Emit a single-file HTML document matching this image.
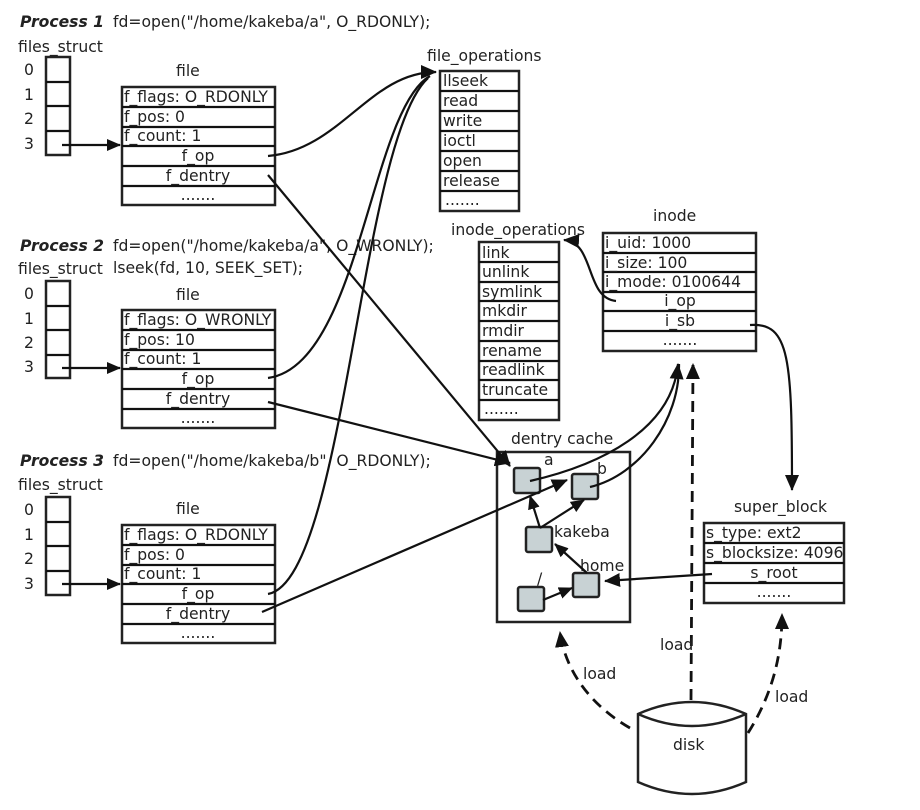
<!DOCTYPE html>
<html><head><meta charset="utf-8"><style>
html,body{margin:0;padding:0;background:#fff;}
svg{display:block;}
text{font-family:"DejaVu Sans","Liberation Sans",sans-serif;font-size:15.6px;fill:#222;}
.b{font-weight:bold;font-style:italic;}
.box{fill:#fff;stroke:#222;stroke-width:2.5;}
.ln{fill:none;stroke:#111;stroke-width:2.2;}
.ds{fill:none;stroke:#111;stroke-width:2.8;stroke-dasharray:11,7;}
.sq{fill:#c8d2d4;stroke:#222;stroke-width:2.5;}
</style></head><body>
<svg width="920" height="810" viewBox="0 0 920 810" xmlns="http://www.w3.org/2000/svg">
<defs>
<marker id="ar" markerWidth="14" markerHeight="12" refX="13" refY="6" orient="auto" markerUnits="userSpaceOnUse" viewBox="0 0 14 12"><path d="M0,0 L14,6 L0,12 z" fill="#111"/></marker>
<marker id="ar2" markerWidth="16" markerHeight="14" refX="15" refY="7" orient="auto" markerUnits="userSpaceOnUse" viewBox="0 0 16 14"><path d="M0,0 L16,7 L0,14 z" fill="#111"/></marker>
</defs>

<!-- Process 1 -->
<text x="20" y="27" class="b">Process 1</text>
<text x="113" y="27">fd=open("/home/kakeba/a", O_RDONLY);</text>
<text x="18" y="52">files_struct</text>
<g>
<rect class="box" x="46" y="57" width="24" height="98"/>
<line class="ln" x1="46" y1="82" x2="70" y2="82"/><line class="ln" x1="46" y1="106" x2="70" y2="106"/><line class="ln" x1="46" y1="131" x2="70" y2="131"/>
<text x="24" y="75">0</text><text x="24" y="100">1</text><text x="24" y="124">2</text><text x="24" y="149">3</text>
</g>
<text x="176" y="76">file</text>
<rect class="box" x="122" y="87" width="153" height="118"/>
<g class="ln"><line x1="122" y1="107" x2="275" y2="107"/><line x1="122" y1="127" x2="275" y2="127"/><line x1="122" y1="146" x2="275" y2="146"/><line x1="122" y1="166" x2="275" y2="166"/><line x1="122" y1="186" x2="275" y2="186"/></g>
<text x="124" y="102">f_flags: O_RDONLY</text><text x="124" y="122">f_pos: 0</text><text x="124" y="141">f_count: 1</text>
<text x="198" y="161" text-anchor="middle">f_op</text><text x="198" y="181" text-anchor="middle">f_dentry</text><text x="198" y="200" text-anchor="middle">.......</text>
<line class="ln" x1="62" y1="145" x2="120" y2="145" marker-end="url(#ar)"/>

<!-- Process 2 -->
<text x="20" y="251" class="b">Process 2</text>
<text x="113" y="251">fd=open("/home/kakeba/a", O_WRONLY);</text>
<text x="18" y="274">files_struct</text>
<text x="113" y="273">lseek(fd, 10, SEEK_SET);</text>
<rect class="box" x="46" y="281" width="24" height="97"/>
<line class="ln" x1="46" y1="306" x2="70" y2="306"/><line class="ln" x1="46" y1="330" x2="70" y2="330"/><line class="ln" x1="46" y1="355" x2="70" y2="355"/>
<text x="24" y="299">0</text><text x="24" y="324">1</text><text x="24" y="348">2</text><text x="24" y="372">3</text>
<text x="176" y="300">file</text>
<rect class="box" x="122" y="310" width="153" height="118"/>
<g class="ln"><line x1="122" y1="330" x2="275" y2="330"/><line x1="122" y1="350" x2="275" y2="350"/><line x1="122" y1="369" x2="275" y2="369"/><line x1="122" y1="389" x2="275" y2="389"/><line x1="122" y1="409" x2="275" y2="409"/></g>
<text x="124" y="325">f_flags: O_WRONLY</text><text x="124" y="345">f_pos: 10</text><text x="124" y="364">f_count: 1</text>
<text x="198" y="384" text-anchor="middle">f_op</text><text x="198" y="404" text-anchor="middle">f_dentry</text><text x="198" y="423" text-anchor="middle">.......</text>
<line class="ln" x1="62" y1="368" x2="120" y2="368" marker-end="url(#ar)"/>

<!-- Process 3 -->
<text x="20" y="466" class="b">Process 3</text>
<text x="113" y="466">fd=open("/home/kakeba/b", O_RDONLY);</text>
<text x="18" y="490">files_struct</text>
<rect class="box" x="46" y="497" width="24" height="98"/>
<line class="ln" x1="46" y1="522" x2="70" y2="522"/><line class="ln" x1="46" y1="546" x2="70" y2="546"/><line class="ln" x1="46" y1="571" x2="70" y2="571"/>
<text x="24" y="515">0</text><text x="24" y="540">1</text><text x="24" y="564">2</text><text x="24" y="589">3</text>
<text x="176" y="514">file</text>
<rect class="box" x="122" y="525" width="153" height="118"/>
<g class="ln"><line x1="122" y1="545" x2="275" y2="545"/><line x1="122" y1="565" x2="275" y2="565"/><line x1="122" y1="584" x2="275" y2="584"/><line x1="122" y1="604" x2="275" y2="604"/><line x1="122" y1="624" x2="275" y2="624"/></g>
<text x="124" y="540">f_flags: O_RDONLY</text><text x="124" y="560">f_pos: 0</text><text x="124" y="579">f_count: 1</text>
<text x="198" y="599" text-anchor="middle">f_op</text><text x="198" y="619" text-anchor="middle">f_dentry</text><text x="198" y="638" text-anchor="middle">.......</text>
<line class="ln" x1="62" y1="584" x2="120" y2="584" marker-end="url(#ar)"/>

<!-- file_operations -->
<text x="427" y="61">file_operations</text>
<rect class="box" x="440" y="71" width="79" height="140"/>
<g class="ln"><line x1="440" y1="91" x2="519" y2="91"/><line x1="440" y1="111" x2="519" y2="111"/><line x1="440" y1="131" x2="519" y2="131"/><line x1="440" y1="151" x2="519" y2="151"/><line x1="440" y1="171" x2="519" y2="171"/><line x1="440" y1="191" x2="519" y2="191"/></g>
<text x="443" y="86">llseek</text><text x="443" y="106">read</text><text x="443" y="126">write</text><text x="443" y="146">ioctl</text><text x="443" y="166">open</text><text x="443" y="186">release</text><text x="445" y="205">.......</text>

<!-- inode_operations -->
<text x="451" y="235">inode_operations</text>
<rect class="box" x="479" y="242" width="80" height="178"/>
<g class="ln"><line x1="479" y1="262" x2="559" y2="262"/><line x1="479" y1="282" x2="559" y2="282"/><line x1="479" y1="301" x2="559" y2="301"/><line x1="479" y1="321" x2="559" y2="321"/><line x1="479" y1="341" x2="559" y2="341"/><line x1="479" y1="361" x2="559" y2="361"/><line x1="479" y1="380" x2="559" y2="380"/><line x1="479" y1="400" x2="559" y2="400"/></g>
<text x="482" y="258">link</text><text x="482" y="277">unlink</text><text x="482" y="297">symlink</text><text x="482" y="316">mkdir</text><text x="482" y="336">rmdir</text><text x="482" y="356">rename</text><text x="482" y="375">readlink</text><text x="482" y="395">truncate</text><text x="484" y="414">.......</text>

<!-- inode -->
<text x="653" y="221">inode</text>
<rect class="box" x="603" y="233" width="153" height="118"/>
<g class="ln"><line x1="603" y1="253" x2="756" y2="253"/><line x1="603" y1="272" x2="756" y2="272"/><line x1="603" y1="292" x2="756" y2="292"/><line x1="603" y1="311" x2="756" y2="311"/><line x1="603" y1="331" x2="756" y2="331"/></g>
<text x="605" y="248">i_uid: 1000</text><text x="605" y="268">i_size: 100</text><text x="605" y="287">i_mode: 0100644</text>
<text x="680" y="306" text-anchor="middle">i_op</text><text x="680" y="326" text-anchor="middle">i_sb</text><text x="680" y="345" text-anchor="middle">.......</text>

<!-- dentry cache -->
<text x="511" y="444">dentry cache</text>
<rect class="box" x="497" y="452" width="133" height="170"/>
<text x="544" y="465">a</text><text x="597" y="474">b</text><text x="554" y="537">kakeba</text><text x="580" y="571">home</text><text x="537" y="584">/</text>
<rect class="sq" x="514" y="468" width="26" height="25" rx="2"/>
<rect class="sq" x="572" y="474" width="26" height="25" rx="2"/>
<rect class="sq" x="526" y="527" width="26" height="25" rx="2"/>
<rect class="sq" x="573" y="573" width="26" height="24" rx="2"/>
<rect class="sq" x="518" y="587" width="26" height="24" rx="2"/>
<line class="ln" x1="540" y1="528" x2="530" y2="496" marker-end="url(#ar)"/>
<line class="ln" x1="540" y1="528" x2="584" y2="500" marker-end="url(#ar)"/>
<line class="ln" x1="587" y1="573" x2="555" y2="544" marker-end="url(#ar)"/>
<line class="ln" x1="543" y1="600" x2="572" y2="588" marker-end="url(#ar)"/>

<!-- super_block -->
<text x="734" y="512">super_block</text>
<rect class="box" x="704" y="523" width="140" height="80"/>
<g class="ln"><line x1="704" y1="543" x2="844" y2="543"/><line x1="704" y1="563" x2="844" y2="563"/><line x1="704" y1="583" x2="844" y2="583"/></g>
<text x="706" y="538">s_type: ext2</text><text x="706" y="558">s_blocksize: 4096</text>
<text x="774" y="578" text-anchor="middle">s_root</text><text x="774" y="597" text-anchor="middle">.......</text>

<!-- disk -->
<path d="M638,714 Q692,690 746,714 L746,782 Q692,806 638,782 Z" fill="#fff" stroke="#222" stroke-width="2.5"/>
<path d="M638,714 Q692,738 746,714" fill="none" stroke="#222" stroke-width="2.5"/>
<text x="673" y="750">disk</text>

<!-- connectors -->
<path class="ln" d="M268,156 C340,150 370,72 436,72" marker-end="url(#ar2)"/>
<path class="ln" d="M268,378 C360,365 370,110 430,76"/>
<path class="ln" d="M268,594 C345,580 360,140 428,78"/>
<path class="ln" d="M268,175 L510,466" marker-end="url(#ar2)"/>
<path class="ln" d="M268,402 L510,463" marker-end="url(#ar2)"/>
<path class="ln" d="M262,612 L567,480" marker-end="url(#ar2)"/>
<path class="ln" d="M530,481 C600,465 672,430 678,364" marker-end="url(#ar2)"/>
<path class="ln" d="M590,487 C640,475 680,420 679,364"/>
<path class="ln" d="M616,301 C585,298 595,242 564,240" marker-end="url(#ar2)"/>
<path class="ln" d="M750,325 C790,322 792,360 792,490" marker-end="url(#ar2)"/>
<path class="ln" d="M712,574 L605,581" marker-end="url(#ar2)"/>
<path class="ds" d="M691,700 L693,364" marker-end="url(#ar2)"/>
<path class="ds" d="M630,728 C590,705 565,670 560,632" marker-end="url(#ar2)"/>
<path class="ds" d="M748,733 C775,690 782,650 782,614" marker-end="url(#ar2)"/>
<text x="583" y="679">load</text>
<text x="660" y="650">load</text>
<text x="775" y="702">load</text>
</svg>
</body></html>
